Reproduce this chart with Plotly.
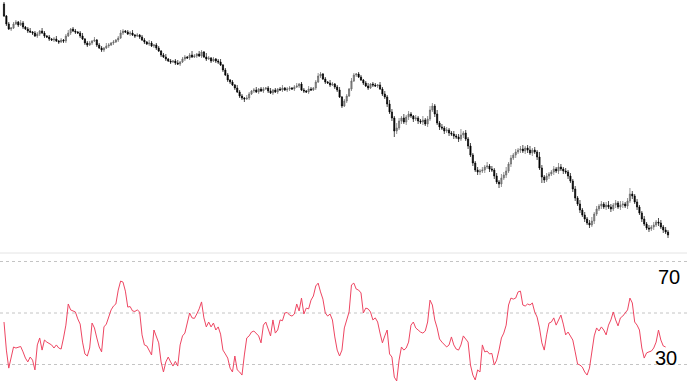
import plotly.graph_objects as go

# ---- data ----
first_open = 296
close = [
    284, 276, 271, 272, 276, 278, 275, 277, 273, 271,
    269, 268, 267, 264, 266, 269, 267, 264, 263, 261,
    260, 261, 259, 258, 260, 259, 264, 267, 271, 269,
    268, 267, 264, 261, 257, 255, 257, 259, 260, 255,
    252, 250, 252, 254, 255, 257, 258, 260, 262, 267,
    269, 268, 266, 267, 265, 264, 265, 263, 260, 258,
    256, 257, 254, 255, 252, 249, 245, 243, 241, 239,
    238, 239, 237, 236, 238, 241, 243, 242, 245, 243,
    244, 246, 244, 248, 243, 241, 242, 239, 241, 239,
    238, 235, 230, 225, 220, 218, 215, 212, 208, 204,
    202, 201, 202, 206, 209, 210, 208, 211, 209, 211,
    212, 209, 207, 210, 208, 211, 210, 212, 210, 211,
    212, 211, 213, 214, 216, 210, 209, 208, 211, 210,
    212, 218, 224, 226, 221, 218, 217, 215, 216, 213,
    210, 203, 194, 199, 204, 211, 219, 225, 226, 223,
    220, 217, 214, 212, 216, 215, 214, 215, 211, 206,
    203, 196, 188, 182, 169, 172, 179, 182, 178, 183,
    186, 184, 181, 182, 179, 178, 180, 176, 181, 190,
    194, 186, 177, 173, 172, 169, 170, 167, 166, 164,
    163, 161, 165, 167, 161, 154, 145, 137, 130, 128,
    129, 130, 133, 134, 131, 130, 124, 118, 116, 122,
    125, 129, 136, 142, 145, 148, 150, 151, 149, 152,
    150, 147, 150, 148, 143, 132, 123, 120, 124, 126,
    128, 131, 129, 133, 131, 129, 128, 124, 119, 111,
    102, 96, 90, 85, 81, 77, 75, 79, 86, 91,
    94, 96, 93, 95, 93, 91, 95, 97, 93, 95,
    96, 94, 99, 106, 104, 98, 93, 87, 81, 76,
    72, 71, 73, 75, 78, 77, 73, 70, 68, 65,
]
upper_wick = [
    2, 1, 2, 1, 2, 2, 1, 3, 2, 1,
    2, 3, 1, 2, 2, 1, 3, 2, 1, 2,
    1, 2, 3, 1, 2, 1, 2, 3, 1, 2,
    2, 1, 2, 3, 1, 2, 2, 1, 3, 1,
    2, 2, 1, 3, 2, 1, 2, 1, 2, 3,
    2, 1, 2, 2, 3, 1, 2, 1, 2, 2,
    1, 3, 2, 1, 2, 2, 1, 2, 3, 1,
    2, 1, 2, 3, 1, 2, 2, 1, 2, 4,
    2, 1, 3, 2, 1, 4, 2, 1, 2, 1,
    2, 3, 1, 2, 2, 1, 2, 1, 3, 2,
    2, 1, 3, 2, 1, 2, 3, 1, 2, 2,
    1, 2, 3, 1, 2, 1, 2, 3, 1, 2,
    2, 1, 2, 3, 1, 2, 2, 1, 3, 2,
    1, 2, 3, 2, 1, 2, 1, 3, 2, 1,
    2, 3, 1, 2, 2, 1, 3, 2, 1, 2,
    2, 1, 2, 3, 1, 2, 2, 1, 3, 2,
    3, 2, 4, 3, 2, 5, 3, 2, 4, 2,
    3, 2, 1, 3, 2, 2, 4, 2, 3, 4,
    3, 2, 4, 2, 3, 2, 3, 2, 2, 3,
    2, 3, 6, 2, 3, 2, 3, 2, 2, 3,
    2, 3, 2, 4, 2, 3, 2, 3, 2, 4,
    3, 4, 2, 3, 2, 3, 2, 3, 4, 2,
    3, 4, 2, 3, 2, 5, 3, 2, 3, 2,
    2, 3, 2, 4, 3, 2, 3, 2, 3, 2,
    3, 2, 4, 2, 3, 2, 3, 4, 2, 3,
    2, 3, 2, 3, 4, 3, 2, 3, 2, 4,
    3, 2, 3, 6, 3, 2, 3, 2, 2, 3,
    2, 3, 2, 3, 2, 4, 3, 2, 3, 2,
]
lower_wick = [
    1, 2, 1, 2, 1, 1, 2, 1, 2, 1,
    2, 1, 2, 1, 2, 2, 1, 2, 1, 2,
    1, 2, 1, 2, 1, 2, 2, 1, 2, 1,
    2, 1, 2, 1, 2, 2, 1, 2, 1, 2,
    1, 2, 2, 1, 2, 1, 2, 1, 2, 1,
    2, 1, 1, 2, 1, 2, 1, 2, 1, 2,
    1, 2, 1, 2, 2, 1, 2, 1, 2, 1,
    2, 1, 2, 1, 2, 1, 2, 1, 2, 1,
    1, 2, 1, 2, 1, 2, 1, 2, 1, 2,
    2, 1, 2, 1, 2, 2, 1, 2, 1, 2,
    2, 3, 1, 2, 1, 2, 1, 2, 1, 2,
    1, 2, 1, 2, 1, 2, 1, 2, 1, 2,
    2, 1, 2, 1, 2, 1, 2, 1, 2, 1,
    1, 2, 1, 2, 1, 2, 1, 2, 1, 2,
    2, 1, 2, 1, 2, 1, 2, 1, 2, 1,
    1, 2, 1, 2, 1, 2, 1, 2, 1, 2,
    2, 3, 2, 3, 6, 3, 2, 3, 2, 3,
    3, 2, 3, 2, 3, 2, 3, 2, 3, 2,
    2, 3, 2, 3, 2, 3, 2, 3, 2, 3,
    2, 3, 2, 3, 2, 3, 2, 3, 2, 3,
    3, 2, 3, 2, 3, 2, 3, 2, 4, 3,
    2, 3, 2, 3, 2, 3, 2, 3, 2, 3,
    3, 2, 3, 2, 3, 2, 6, 3, 2, 3,
    2, 3, 2, 3, 2, 3, 2, 3, 2, 3,
    3, 2, 3, 2, 3, 2, 3, 2, 3, 2,
    2, 3, 2, 3, 2, 3, 2, 3, 2, 3,
    3, 2, 3, 2, 3, 2, 3, 2, 3, 2,
    2, 3, 2, 3, 2, 3, 2, 3, 2, 3,
]
rsi = [
    46.5, 35.6, 28.6, 32.5, 36.8, 36.4, 36.8, 37.0, 34.9, 32.5,
    31.0, 32.9, 31.7, 27.9, 37.6, 40.3, 35.6, 39.5, 38.7, 38.0,
    37.6, 36.4, 37.6, 36.4, 36.0, 40.3, 45.3, 53.5, 51.2, 50.8,
    50.4, 47.7, 45.7, 38.7, 34.1, 33.3, 36.4, 46.1, 44.2, 40.3,
    36.8, 34.9, 44.6, 45.7, 48.1, 51.2, 52.7, 53.5, 58.9, 62.4,
    62.0, 58.5, 52.3, 52.5, 50.8, 50.6, 51.2, 50.4, 41.5, 37.6,
    37.2, 35.6, 33.7, 43.4, 41.1, 38.4, 31.0, 27.1, 31.0, 32.9,
    31.0, 29.4, 31.2, 29.4, 37.6, 41.1, 42.2, 46.1, 50.0, 48.1,
    47.9, 49.6, 51.6, 54.3, 48.1, 44.6, 46.5, 44.6, 46.1, 43.4,
    44.6, 41.8, 35.6, 34.1, 32.5, 28.6, 27.1, 33.3, 27.9, 27.1,
    25.9, 33.7, 40.3, 41.1, 42.6, 43.0, 42.2, 41.1, 38.4, 45.3,
    46.5, 43.4, 41.1, 47.3, 42.2, 43.4, 47.3, 47.0, 50.0, 50.2,
    49.2, 48.8, 49.6, 53.5, 50.8, 55.8, 49.6, 51.9, 51.6, 55.0,
    56.6, 60.5, 61.6, 58.2, 55.4, 50.0, 48.8, 49.6, 47.3, 40.7,
    35.6, 33.3, 35.6, 44.2, 46.9, 50.4, 60.9, 61.6, 59.3, 58.9,
    57.8, 50.0, 51.9, 51.6, 50.4, 47.3, 48.1, 46.5, 42.2, 38.4,
    41.1, 43.4, 34.1, 32.9, 25.1, 23.6, 31.7, 36.8, 35.6, 36.4,
    38.7, 45.3, 46.5, 44.2, 43.4, 42.6, 42.2, 43.0, 46.5, 55.0,
    53.1, 47.3, 44.2, 39.9, 38.7, 37.6, 36.8, 37.6, 40.7, 37.6,
    36.0, 35.6, 37.6, 41.1, 39.9, 38.7, 29.8, 25.9, 24.0, 27.9,
    27.1, 37.6, 34.9, 35.2, 34.1, 34.3, 29.8, 31.7, 35.6, 40.3,
    42.2, 45.3, 53.1, 55.8, 55.4, 55.8, 58.2, 58.5, 53.1, 52.7,
    53.5, 53.1, 53.9, 50.4, 48.4, 44.2, 38.4, 35.6, 41.5, 46.1,
    46.5, 48.1, 45.3, 47.3, 49.2, 45.7, 41.5, 42.6, 41.1, 39.5,
    34.9, 30.2, 29.8, 29.0, 27.1, 25.9, 28.6, 34.9, 41.1, 44.2,
    43.0, 44.6, 43.4, 41.5, 45.3, 47.3, 50.4, 47.3, 45.0, 48.1,
    48.8, 50.0, 51.2, 55.8, 53.9, 46.5, 45.3, 43.4, 36.4, 32.5,
    34.5, 34.9, 35.2, 36.4, 38.7, 43.4, 39.5, 37.2, 36.8,
]
rsi_levels = [70, 50, 30]
rsi_labels = ["70", "30"]

# ---- build OHLC ----
n = len(close)
idx = list(range(n))
opn = [first_open] + close[:-1]
high = [max(o, c) + u for o, c, u in zip(opn, close, upper_wick)]
low = [min(o, c) - w for o, c, w in zip(opn, close, lower_wick)]

split = 1 - 253 / 390

fig = go.Figure()
fig.add_trace(go.Candlestick(
    x=idx, open=opn, high=high, low=low, close=close,
    increasing=dict(line=dict(color="#666666", width=0.7), fillcolor="#888888"),
    decreasing=dict(line=dict(color="#000000", width=0.7), fillcolor="#000000"),
    whiskerwidth=0, showlegend=False, hoverinfo="skip",
    xaxis="x", yaxis="y",
))
fig.add_trace(go.Scatter(
    x=idx[:len(rsi)], y=rsi, mode="lines",
    line=dict(color="rgb(238,70,98)", width=1),
    showlegend=False, hoverinfo="skip",
    xaxis="x2", yaxis="y2",
))

for lv in rsi_levels:
    fig.add_shape(type="line", xref="paper", x0=0, x1=1, yref="y2", y0=lv, y1=lv,
                  line=dict(color="#c4c4c4", width=1, dash="3px,3px"), layer="below")
fig.add_shape(type="line", xref="paper", x0=0, x1=1, yref="paper", y0=split, y1=split,
              line=dict(color="#e4e4e4", width=1), layer="below")

label_font = dict(family="Liberation Sans, Arial", size=20, color="#000")
fig.add_annotation(text=rsi_labels[0], xref="paper", x=1, xanchor="right", xshift=-5,
                   yref="y2", y=rsi_levels[0], yanchor="top", yshift=-2, showarrow=False,
                   font=label_font)
fig.add_annotation(text=rsi_labels[1], xref="paper", x=1, xanchor="right", xshift=-8,
                   yref="y2", y=rsi_levels[2], yanchor="bottom", yshift=-6, showarrow=False,
                   font=label_font)

xr = [-1.68, 286.98]
fig.update_layout(
    width=687, height=390,
    margin=dict(l=0, r=0, t=0, b=0),
    paper_bgcolor="white", plot_bgcolor="white",
    showlegend=False,
    xaxis=dict(domain=[0, 1], range=xr, visible=False, rangeslider=dict(visible=False), anchor="y"),
    xaxis2=dict(domain=[0, 1], range=xr, visible=False, anchor="y2"),
    yaxis=dict(domain=[split, 1], range=[47, 300], visible=False),
    yaxis2=dict(domain=[0, split], range=[20.1, 73.3], visible=False),
)

fig.write_html("out.html")
